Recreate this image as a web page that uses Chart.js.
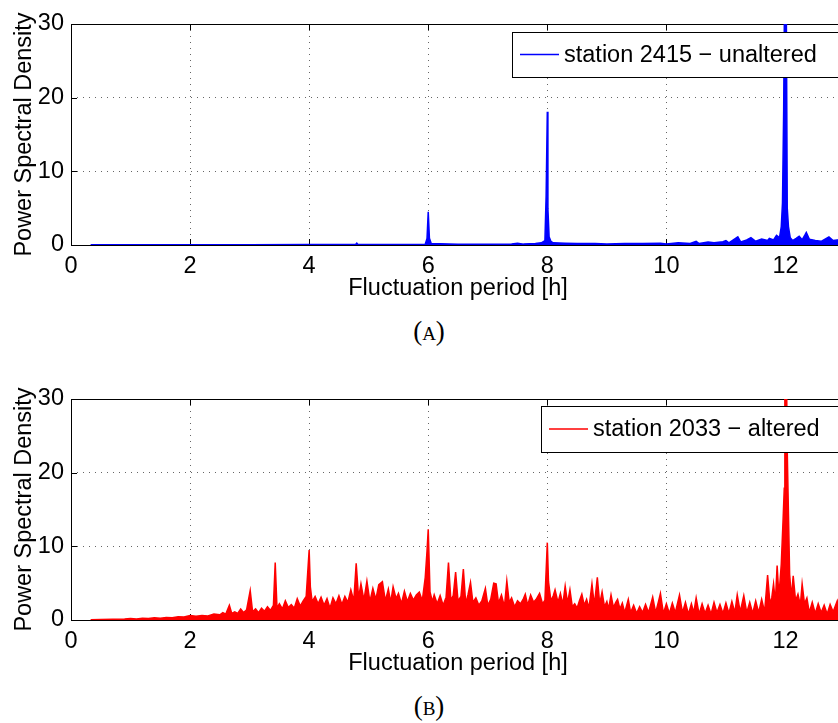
<!DOCTYPE html>
<html lang="en">
<head>
<meta charset="UTF-8">
<title>Power Spectral Density - stations 2415 and 2033</title>
<script src="https://cdn.jsdelivr.net/npm/chart.js"></script>
<style>
    html, body {
        margin: 0;
        padding: 0;
        background: #fff;
        overflow: hidden;
        width: 838px;
        height: 723px;
    }
    .panel {
        position: absolute;
        left: 0;
        width: 860px;
        height: 303px;
    }
    #panelA { top: 0; }
    #panelB { top: 375px; }
    .caption {
        position: absolute;
        left: 0;
        width: 858px;
        text-align: center;
        font-family: "Liberation Serif", "DejaVu Serif", serif;
        font-size: 27px;
        line-height: 30px;
        color: #000;
    }
    .caption span { font-size: 19px; }
</style>
</head>
<body>

<div class="panel" id="panelA"><canvas id="chartA" width="860" height="303"></canvas></div>
<div class="caption" style="top:316px">(<span>A</span>)</div>

<div class="panel" id="panelB"><canvas id="chartB" width="860" height="303"></canvas></div>
<div class="caption" style="top:691px">(<span>B</span>)</div>

<script>
// tick labels
const xTicks = [0, 2, 4, 6, 8, 10, 12];
const yTicks = [0, 10, 20, 30];

// (A) station 2415 - unaltered, period [h] / PSD
const periodsA = [
    0.33, 1.0, 2.0, 3.0, 4.0, 4.78, 4.8, 4.82, 5.5, 5.95,
    5.98, 6.0, 6.02, 6.05, 6.5, 7.0, 7.4, 7.5, 7.6, 7.8,
    7.9, 7.96, 7.98, 8.0, 8.01, 8.03, 8.06, 8.1, 8.3, 8.5,
    8.8, 9.0, 9.3, 9.6, 9.9, 10.0, 10.2, 10.4, 10.5, 10.55,
    10.7, 10.8, 10.95, 11.0, 11.05, 11.2, 11.25, 11.35, 11.42, 11.5,
    11.6, 11.7, 11.73, 11.8, 11.85, 11.9, 11.93, 11.95, 11.97, 11.99,
    12.01, 12.03, 12.05, 12.08, 12.12, 12.18, 12.23, 12.28, 12.33, 12.35,
    12.4, 12.5, 12.6, 12.73, 12.8, 12.9, 13.0, 13.1
];
const psdA = [
    0.03, 0.03, 0.04, 0.05, 0.06, 0.06, 0.25, 0.06, 0.07, 0.1,
    0.9, 4.5, 0.9, 0.2, 0.1, 0.1, 0.15, 0.25, 0.12, 0.2,
    0.3, 0.6, 6.6, 18.1, 4.9, 1.1, 0.5, 0.3, 0.25, 0.2,
    0.2, 0.15, 0.2, 0.2, 0.25, 0.15, 0.3, 0.2, 0.5, 0.2,
    0.4, 0.3, 0.45, 0.6, 0.3, 1.1, 0.4, 0.7, 1.0, 0.5,
    0.8, 0.6, 0.9, 0.7, 1.3, 1.0, 2.5, 5.7, 18.3, 40,
    40, 5.0, 2.5, 1.0, 0.6, 0.9, 1.2, 0.7, 1.4, 1.7,
    0.8, 0.6, 0.5, 1.1, 0.6, 0.7, 0.5, 0.6
];

// (B) station 2033 - altered
const periodsB = [
    0.33, 0.5, 0.7, 0.9, 1.0, 1.1, 1.2, 1.3, 1.4, 1.5,
    1.6, 1.7, 1.8, 1.9, 2.0, 2.1, 2.2, 2.3, 2.4, 2.5,
    2.55, 2.6, 2.66, 2.7, 2.75, 2.8, 2.85, 2.9, 2.95, 3.01,
    3.05, 3.1, 3.15, 3.2, 3.25, 3.3, 3.35, 3.4, 3.43, 3.46,
    3.5, 3.55, 3.6, 3.65, 3.7, 3.75, 3.8, 3.85, 3.9, 3.95,
    4.0, 4.02, 4.05, 4.1, 4.15, 4.2, 4.25, 4.3, 4.35, 4.4,
    4.45, 4.5, 4.55, 4.6, 4.65, 4.7, 4.75, 4.79, 4.83, 4.87,
    4.92, 4.97, 5.02, 5.07, 5.12, 5.17, 5.23, 5.28, 5.33, 5.37,
    5.41, 5.46, 5.5, 5.55, 5.6, 5.65, 5.7, 5.75, 5.8, 5.85,
    5.9, 5.95, 5.98, 6.0, 6.03, 6.07, 6.1, 6.15, 6.2, 6.25,
    6.3, 6.34, 6.38, 6.42, 6.46, 6.5, 6.55, 6.59, 6.63, 6.67,
    6.71, 6.75, 6.8, 6.85, 6.9, 6.96, 7.0, 7.05, 7.1, 7.14,
    7.18, 7.23, 7.28, 7.32, 7.36, 7.4, 7.45, 7.5, 7.55, 7.6,
    7.63, 7.67, 7.72, 7.77, 7.82, 7.87, 7.92, 7.96, 8.0, 8.02,
    8.06, 8.1, 8.13, 8.18, 8.22, 8.26, 8.3, 8.34, 8.38, 8.42,
    8.46, 8.5, 8.54, 8.58, 8.62, 8.66, 8.7, 8.75, 8.79, 8.84,
    8.88, 8.92, 8.96, 9.0, 9.03, 9.07, 9.11, 9.15, 9.18, 9.22,
    9.26, 9.3, 9.36, 9.4, 9.45, 9.5, 9.55, 9.6, 9.65, 9.7,
    9.77, 9.82, 9.87, 9.9, 9.95, 10.0, 10.05, 10.1, 10.15, 10.22,
    10.27, 10.32, 10.37, 10.42, 10.46, 10.5, 10.55, 10.6, 10.65, 10.7,
    10.75, 10.8, 10.85, 10.9, 10.95, 11.0, 11.05, 11.1, 11.15, 11.19,
    11.24, 11.3, 11.35, 11.4, 11.45, 11.5, 11.55, 11.6, 11.65, 11.7,
    11.74, 11.77, 11.8, 11.83, 11.86, 11.89, 11.93, 11.96, 11.98, 11.99,
    12.01, 12.03, 12.05, 12.07, 12.1, 12.13, 12.17, 12.21, 12.25, 12.28,
    12.32, 12.36, 12.4, 12.45, 12.5, 12.55, 12.6, 12.65, 12.7, 12.75,
    12.8, 12.87, 12.92, 12.97, 13.02, 13.1
];
const psdB = [
    0.05, 0.08, 0.1, 0.12, 0.2, 0.15, 0.25, 0.2, 0.3, 0.25,
    0.35, 0.3, 0.45, 0.4, 0.6, 0.5, 0.6, 0.55, 0.8, 0.7,
    1.0, 0.8, 2.0, 0.9, 1.1, 0.9, 1.5, 1.0, 1.4, 4.0,
    1.1, 1.5, 1.0, 1.6, 1.2, 1.8, 1.3, 2.0, 7.8, 1.6,
    2.2, 1.5, 2.6, 1.7, 2.1, 1.6, 2.9, 1.9, 2.6, 3.2,
    9.5, 4.5, 2.5, 3.2, 2.2, 3.1, 2.0, 2.9, 1.6, 3.0,
    2.2, 3.3, 2.1, 3.2, 2.4, 4.1, 2.6, 7.7, 3.0, 4.9,
    2.7, 5.3, 2.5, 4.3, 2.8, 4.8, 5.2, 2.6, 4.2, 2.4,
    4.5, 2.9, 3.6, 2.2, 3.9, 2.5, 3.6, 2.7, 3.4, 3.8,
    2.6, 5.8, 9.4, 12.3, 3.8, 2.5, 3.4, 2.2, 3.3, 2.0,
    3.1, 7.8, 2.7, 3.3, 6.5, 2.6, 3.2, 6.9, 2.2, 3.5,
    5.1, 2.4, 3.0, 2.0, 2.6, 4.3, 2.0, 2.8, 5.0, 4.9,
    2.3, 3.4, 1.8, 5.3, 2.4, 3.0, 1.8, 2.6, 2.2, 2.9,
    3.5, 2.0, 3.4, 2.4, 2.9, 3.6, 2.2, 2.7, 10.5, 5.2,
    2.6, 3.3, 4.1, 2.4, 3.6, 2.1, 4.6, 2.3, 4.1, 1.8,
    2.2, 1.6, 2.6, 3.5, 2.0, 2.8, 1.6, 4.9, 2.0, 5.8,
    2.2, 3.8, 1.8, 2.5, 1.5, 3.4, 1.7, 2.4, 2.8, 1.5,
    2.3, 1.0, 2.8, 1.0, 2.0, 0.9, 1.8, 1.0, 2.1, 1.0,
    3.1, 1.0, 2.6, 3.6, 0.9, 2.2, 0.9, 2.3, 1.0, 3.4,
    1.0, 2.4, 0.8, 2.2, 1.0, 3.0, 0.8, 2.2, 0.9, 2.0,
    0.8, 2.4, 1.0, 2.1, 0.9, 2.3, 0.9, 2.5, 1.0, 3.4,
    1.1, 3.3, 1.0, 2.4, 0.9, 2.6, 1.0, 2.8, 1.1, 6.1,
    2.2, 3.0, 4.9, 2.4, 7.4, 3.2, 7.6, 13.6, 17.9, 40,
    40, 22.9, 14.5, 6.2, 3.0, 6.0, 2.6, 3.5, 2.0, 4.9,
    2.2, 3.0, 1.0, 2.4, 0.9, 2.2, 1.0, 2.0, 0.8, 2.1,
    1.1, 2.6, 0.9, 2.3, 1.0, 2.4
];

const FONT = '"Liberation Sans", Arial, Helvetica, sans-serif';
const FONT_SIZE = 23.5;
const GRID = 'rgba(0, 0, 0, 0.6)';

// axes box with inward ticks (under the data) and the legend box (over it)
const psdFrame = {
    id: 'psdFrame',
    beforeDatasetsDraw(chart) {
        const { ctx, chartArea: a, scales } = chart;
        ctx.save();
        ctx.strokeStyle = '#000';
        ctx.lineWidth = 1;
        ctx.strokeRect(a.left + 0.5, a.top + 0.5, a.right - a.left, a.bottom - a.top);
        ctx.beginPath();
        xTicks.forEach(v => {
            const px = Math.round(scales.x.getPixelForValue(v)) + 0.5;
            ctx.moveTo(px, a.bottom); ctx.lineTo(px, a.bottom - 6);
            ctx.moveTo(px, a.top); ctx.lineTo(px, a.top + 6);
        });
        yTicks.forEach(v => {
            const py = Math.round(scales.y.getPixelForValue(v)) + 0.5;
            ctx.moveTo(a.left, py); ctx.lineTo(a.left + 6, py);
            ctx.moveTo(a.right, py); ctx.lineTo(a.right - 6, py);
        });
        ctx.stroke();
        ctx.restore();
    },
    afterDatasetsDraw(chart, args, opts) {
        const ctx = chart.ctx;
        const box = opts.box;
        ctx.save();
        ctx.fillStyle = '#fff';
        ctx.fillRect(box[0], box[1], box[2], box[3]);
        ctx.strokeStyle = '#000';
        ctx.lineWidth = 1;
        ctx.strokeRect(box[0] + 0.5, box[1] + 0.5, box[2], box[3]);
        const mid = box[1] + box[3] / 2;
        ctx.strokeStyle = chart.data.datasets[0].borderColor;
        ctx.lineWidth = 1.3;
        ctx.beginPath();
        ctx.moveTo(box[0] + 8, mid);
        ctx.lineTo(box[0] + 47, mid);
        ctx.stroke();
        ctx.fillStyle = '#000';
        ctx.font = FONT_SIZE + 'px ' + FONT;
        ctx.textBaseline = 'middle';
        ctx.fillText(chart.data.datasets[0].label, box[0] + 52, mid + 1);
        ctx.restore();
    }
};

function makeChart(id, periods, values, color, label, box) {
    const points = periods.map((p, i) => ({ x: p, y: values[i] }));
    const tickFont = { family: FONT, size: FONT_SIZE };
    return new Chart(document.getElementById(id), {
        type: 'line',
        data: {
            datasets: [{
                label: label,
                data: points,
                borderColor: color,
                backgroundColor: color,
                borderWidth: 1.5,
                pointRadius: 0,
                tension: 0,
                fill: 'origin'
            }]
        },
        options: {
            responsive: false,
            animation: false,
            devicePixelRatio: 1,
            layout: { padding: { top: 24, left: 0, right: 15, bottom: 0 } },
            plugins: {
                legend: { display: false },
                tooltip: { enabled: false },
                psdFrame: { box: box }
            },
            scales: {
                x: {
                    type: 'linear',
                    min: 0,
                    max: 13,
                    afterBuildTicks: s => { s.ticks = xTicks.map(v => ({ value: v })); },
                    afterFit: s => { s.height = 58; },
                    ticks: { padding: 7, color: '#000', font: tickFont },
                    grid: { color: GRID, drawTicks: false },
                    border: { display: false, dash: [1, 5] },
                    title: {
                        display: true,
                        text: 'Fluctuation period [h]',
                        color: '#000',
                        font: tickFont,
                        padding: { top: 0, bottom: 0 }
                    }
                },
                y: {
                    min: 0,
                    max: 30,
                    afterBuildTicks: s => { s.ticks = yTicks.map(v => ({ value: v })); },
                    afterFit: s => { s.width = 71; },
                    ticks: { padding: 7, color: '#000', font: tickFont },
                    grid: { color: GRID, drawTicks: false },
                    border: { display: false, dash: [1, 5] },
                    title: {
                        display: true,
                        text: 'Power Spectral Density',
                        color: '#000',
                        font: tickFont,
                        padding: { top: 10, bottom: 0 }
                    }
                }
            }
        },
        plugins: [psdFrame]
    });
}

makeChart('chartA', periodsA, psdA, '#0000ff', 'station 2415 \u2212 unaltered', [512, 32, 334, 45]);
makeChart('chartB', periodsB, psdB, '#ff0000', 'station 2033 \u2212 altered', [541, 31, 305, 46]);
</script>

</body>
</html>
